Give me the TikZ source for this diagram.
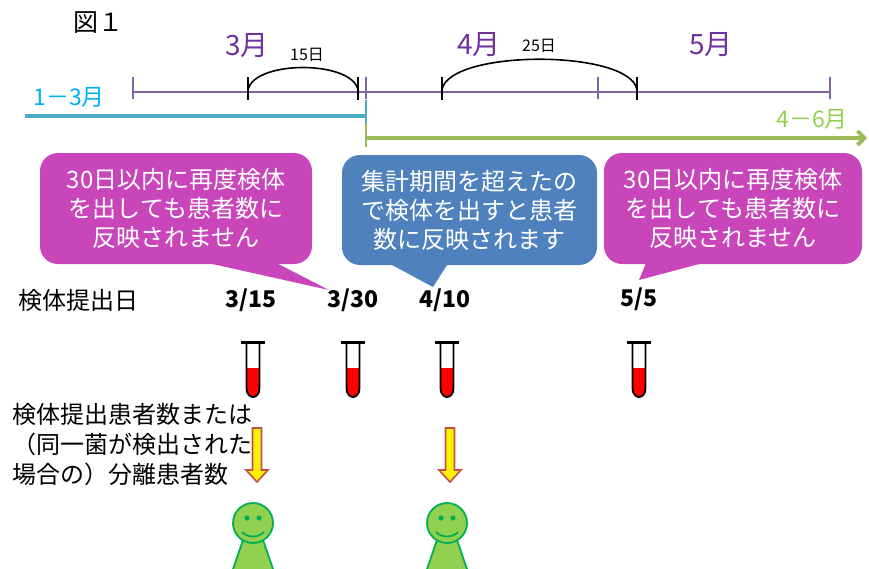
\documentclass[tikz,border=0pt]{standalone}
\usepackage{fontspec}
\setmainfont{Noto Sans CJK JP}
\usetikzlibrary{arrows.meta}
\definecolor{tlpurple}{HTML}{8064A2}
\definecolor{monthpurple}{HTML}{7030A0}
\definecolor{cyanline}{HTML}{4BACC6}
\definecolor{cyantext}{HTML}{00B0F0}
\definecolor{greenline}{HTML}{9BBB59}
\definecolor{greentext}{HTML}{92D050}
\definecolor{bubblemag}{HTML}{C846B9}
\definecolor{bubbleblue}{HTML}{4F81BD}
\definecolor{arrowred}{HTML}{C0504D}
\definecolor{personfill}{HTML}{92D050}
\definecolor{personline}{HTML}{00B050}
\tikzset{
  month/.style={text=monthpurple, font=\fontsize{28}{32}\selectfont, inner sep=0},
  daylabel/.style={font=\fontsize{16}{18}\selectfont, inner sep=0},
  datelabel/.style={font=\bfseries\fontsize{23}{26}\selectfont, inner sep=0},
  plain/.style={font=\fontsize{24}{30}\selectfont, inner sep=0},
  bubble/.style={rounded corners=18pt, text=white, align=center, inner sep=0,
    font=\fontsize{24}{29}\selectfont},
  tlline/.style={draw=tlpurple, line width=1.6pt},
  bracket/.style={draw=black, line width=2.2pt},
  testtube/.pic={
    \fill[red] (-6.5,368) -- (-6.5,388) .. controls (-6.5,400) and (6.5,400) .. (6.5,388) -- (6.5,368) -- cycle;
    \draw[line width=1.8pt] (-6.5,343) -- (-6.5,388) .. controls (-6.5,400) and (6.5,400) .. (6.5,388) -- (6.5,343);
    \draw[line width=3pt] (-12,342) -- (12,342);
  },
  downarrow/.pic={
    \filldraw[fill=yellow, draw=arrowred, line width=1.6pt, line join=miter]
      (-4.5,428) -- (4.5,428) -- (4.5,470) -- (11,470) -- (0,482) -- (-11,470) -- (-4.5,470) -- cycle;
  },
  person/.pic={
    \filldraw[fill=personfill, draw=personline, line width=1.8pt]
      (-10,540) -- (10,540) -- (21,572) -- (-21,572) -- cycle;
    \filldraw[fill=personfill, draw=personline, line width=1.8pt] (0,523) circle (20);
    \fill[personline] (-6,518) circle (2.6) (6,518) circle (2.6);
    \draw[personline, line width=1.8pt] (-11,532) .. controls (-5,538) and (5,538) .. (11,532);
  }
}
\begin{document}
\begin{tikzpicture}[x=1pt,y=-1pt]
\useasboundingbox (0,0) rectangle (869,568);
\clip (0,0) rectangle (869,568);

% title
\node[inner sep=0, font=\fontsize{25}{28}\selectfont, anchor=west] (fig) at (73,23) {図１};

% month labels
\node[month] (m3) at (247,46) {3月};
\node[month] (m4) at (479,45) {4月};
\node[month] (m5) at (711,45) {5月};

% purple timeline
\coordinate (t0) at (133,92);
\coordinate (t3) at (830,92);
\draw[tlline] (t0) -- (t3);
\foreach \x in {133,366,598,830} \draw[tlline] (\x,77) -- (\x,99);

% brackets
\draw[bracket] (248,77) -- (248,100);
\draw[bracket] (358,77) -- (358,100);
\draw[black, line width=1.6pt] (248,90) .. controls (254,60) and (352,60) .. (358,90);
\node[daylabel] (d15) at (307,55) {15日};
\draw[bracket] (442,77) -- (442,100);
\draw[bracket] (637,77) -- (637,100);
\draw[black, line width=1.6pt] (442,90) .. controls (448,49) and (631,49) .. (637,90);
\node[daylabel] (d25) at (539,46) {25日};

% quarter lines
\node[font=\fontsize{23}{26}\selectfont, text=cyantext, inner sep=0] (q1) at (69,97) {1－3月};
\coordinate (c0) at (25,116);
\coordinate (c1) at (366,116);
\draw[cyanline, line width=3.6pt] (c0) -- (c1);
\draw[cyanline, line width=2pt] (366,100) -- (366,123);
\draw[greenline, line width=2pt] (366,123) -- (366,147);
\coordinate (g0) at (365,138);
\coordinate (g1) at (867,138);
\draw[greenline, line width=3.6pt, -{Straight Barb[length=7pt,width=14pt]}] (g0) -- (g1);
\node[font=\fontsize{23}{26}\selectfont, text=greentext, inner sep=0] (q2) at (812,119) {4－6月};

% bubbles
\node[bubble, fill=bubblemag, minimum width=272pt, minimum height=111pt] (b1) at (176,208.5)
  {30日以内に再度検体\\を出しても患者数に\\反映されません};
\coordinate (tip1) at (329,290);
\fill[bubblemag] ([xshift=160pt,yshift=3pt]b1.south west) -- (tip1) -- ([xshift=233pt,yshift=3pt]b1.south west) -- cycle;

\node[bubble, fill=bubbleblue, minimum width=255pt, minimum height=110pt] (b2) at (469.5,210)
  {集計期間を超えたの\\で検体を出すと患者\\数に反映されます};
\coordinate (tip2) at (433,287);
\fill[bubbleblue] ([xshift=45pt,yshift=3pt]b2.south west) -- (tip2) -- ([xshift=107pt,yshift=3pt]b2.south west) -- cycle;

\node[bubble, fill=bubblemag, minimum width=258pt, minimum height=111pt] (b3) at (733,208.5)
  {30日以内に再度検体\\を出しても患者数に\\反映されません};
\coordinate (tip3) at (639,280);
\fill[bubblemag] ([xshift=43pt,yshift=3pt]b3.south west) -- (tip3) -- ([xshift=106pt,yshift=3pt]b3.south west) -- cycle;

% dates
\node[plain, anchor=west] (lbl) at (18,300) {検体提出日};
\node[datelabel] (dt1) at (251,300) {3/15};
\node[datelabel] (dt2) at (353,300) {3/30};
\node[datelabel] (dt3) at (445,300) {4/10};
\node[datelabel] (dt4) at (639,299) {5/5};

% left multi-line text
\node[plain, anchor=west, align=left] (cnt) at (12,445)
  {検体提出患者数または\\（同一菌が検出された\\場合の）分離患者数};

% tubes
\pic at (253,0) {testtube};
\pic at (353,0) {testtube};
\pic at (447,0) {testtube};
\pic at (639,0) {testtube};

% arrows
\pic at (257,0) {downarrow};
\pic at (450,0) {downarrow};

% persons
\pic at (253,0) {person};
\pic at (447,0) {person};
\end{tikzpicture}
\end{document}
